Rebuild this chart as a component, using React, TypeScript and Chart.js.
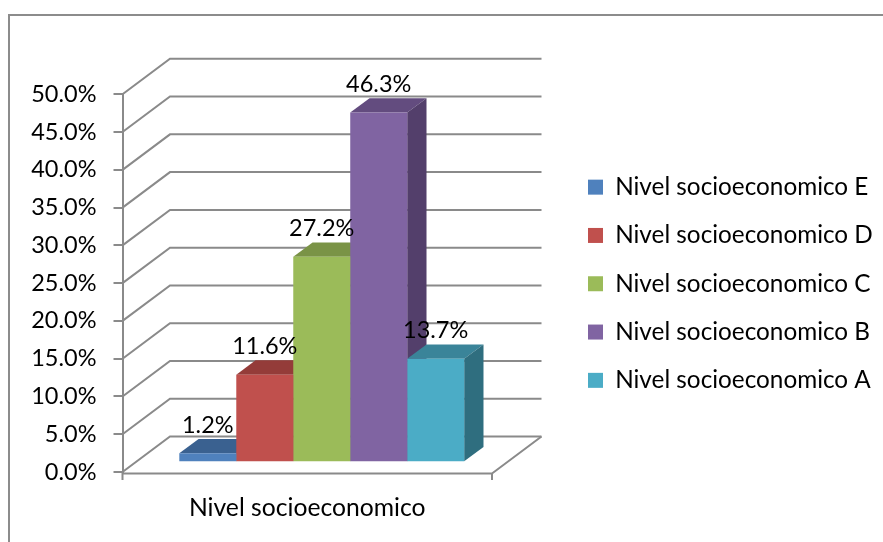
import React, { useEffect, useRef } from "react";
import { Chart, registerables } from "chart.js";

Chart.register(...registerables);

const categories = ["Nivel socioeconomico"];
const seriesNames = [
  "Nivel socioeconomico E",
  "Nivel socioeconomico D",
  "Nivel socioeconomico C",
  "Nivel socioeconomico B",
  "Nivel socioeconomico A",
];
const seriesValues = [[1.2], [11.6], [27.2], [46.3], [13.7]];
const frontColors = ["#4F81BD", "#C0504D", "#9BBB59", "#8064A2", "#4BACC6"];
const topColors = ["#3A6190", "#943C39", "#7A9346", "#634C7F", "#3A8499"];
const sideColors = ["#315179", "#7E3331", "#677C3B", "#533F6B", "#2F6E7F"];

const FONT = "Lato";
const TEXT_SIZE = 24.3;
const AXIS_TEXT_SIZE = 24.7;
const NUM_SIZE = 23.5;
const GRID = "#8A8A8A";
const WALL = { dx: 47.5, dxRight: 49.5, dy: -35.5 };
const BAR_SHIFT = { dx: 14.5, dy: -9.7 };
const BAR_DEPTH = { dx: 19.3, dy: -14.3 };
const LEGEND_PAD = 24;

const scene = {
  id: "scene",
  beforeDraw(chart: any) {
    const { ctx, width, height } = chart;
    ctx.save();
    ctx.fillStyle = "#fff";
    ctx.fillRect(0, 0, width, height);
    ctx.strokeStyle = "#8C8C8C";
    ctx.lineWidth = 2;
    ctx.beginPath();
    ctx.moveTo(9, height);
    ctx.lineTo(9, 15);
    ctx.lineTo(width, 15);
    ctx.stroke();
    ctx.restore();
  },
  beforeLayout(chart: any) {
    const legend = chart.legend;
    if (legend && !legend.__wrapped) {
      const fit = legend.fit;
      legend.fit = function () {
        fit.call(this);
        this.width = 391;
      };
      legend.__wrapped = true;
    }
  },
  afterLayout(chart: any) {
    const legend = chart.legend;
    legend.left = 588 - LEGEND_PAD;
    legend.right = 883;
    legend.top = 175 - LEGEND_PAD;
    legend.bottom = 542;
  },
  beforeDatasetsDraw(chart: any) {
    const { ctx, chartArea, scales } = chart;
    const y = scales.y;
    const left = chartArea.left;
    const right = chartArea.right;
    ctx.save();
    ctx.strokeStyle = GRID;
    ctx.lineWidth = 2;
    ctx.lineJoin = "miter";
    y.ticks.forEach((t: any) => {
      const py = y.getPixelForValue(t.value);
      ctx.beginPath();
      ctx.moveTo(left, py);
      ctx.lineTo(left + WALL.dx, py + WALL.dy);
      ctx.lineTo(right + WALL.dxRight, py + WALL.dy);
      ctx.stroke();
    });
    // floor: right edge and front edge, with the end ticks of the category axis
    const py0 = y.getPixelForValue(0);
    ctx.beginPath();
    ctx.moveTo(right + WALL.dxRight, py0 + WALL.dy);
    ctx.lineTo(right, py0 + 1.5);
    ctx.moveTo(left - 1, py0 + 1.5);
    ctx.lineTo(right, py0 + 1.5);
    ctx.moveTo(left, py0);
    ctx.lineTo(left, py0 + 8);
    ctx.moveTo(right, py0 + 1);
    ctx.lineTo(right, py0 + 8);
    ctx.stroke();
    ctx.restore();

    ctx.save();
    ctx.translate(BAR_SHIFT.dx, BAR_SHIFT.dy);
    chart.data.datasets.forEach((_: any, i: number) => {
      const el = chart.getDatasetMeta(i).data[0];
      const x0 = el.x - el.width / 2;
      const x1 = el.x + el.width / 2;
      ctx.fillStyle = topColors[i];
      ctx.beginPath();
      ctx.moveTo(x0, el.y);
      ctx.lineTo(x1, el.y);
      ctx.lineTo(x1 + BAR_DEPTH.dx, el.y + BAR_DEPTH.dy);
      ctx.lineTo(x0 + BAR_DEPTH.dx, el.y + BAR_DEPTH.dy);
      ctx.closePath();
      ctx.fill();
      ctx.fillStyle = sideColors[i];
      ctx.beginPath();
      ctx.moveTo(x1, el.y);
      ctx.lineTo(x1 + BAR_DEPTH.dx, el.y + BAR_DEPTH.dy);
      ctx.lineTo(x1 + BAR_DEPTH.dx, el.base + BAR_DEPTH.dy);
      ctx.lineTo(x1, el.base);
      ctx.closePath();
      ctx.fill();
    });
  },
  afterDatasetsDraw(chart: any) {
    const { ctx } = chart;
    ctx.fillStyle = "#000";
    ctx.font = `${NUM_SIZE}px ${FONT}`;
    ctx.textAlign = "center";
    ctx.textBaseline = "middle";
    chart.data.datasets.forEach((ds: any, i: number) => {
      const el = chart.getDatasetMeta(i).data[0];
      ctx.fillText(ds.data[0].toFixed(1) + "%", el.x, el.y - 28);
    });
    ctx.restore();
  },
};

export default function App() {
  const ref = useRef<HTMLCanvasElement>(null);
  useEffect(() => {
    const chart = new Chart(ref.current!, {
      type: "bar",
      data: {
        labels: categories,
        datasets: seriesNames.map((label, i) => ({
          label,
          data: seriesValues[i],
          backgroundColor: frontColors[i],
          borderWidth: 0,
          clip: false as any,
        })),
      },
      options: {
        animation: false,
        responsive: false,
        devicePixelRatio: 1,
        layout: { autoPadding: false, padding: { top: 94.3, left: 0, right: 0, bottom: 0 } },
        datasets: { bar: { barPercentage: 1, categoryPercentage: 0.771 } },
        plugins: {
          tooltip: { enabled: false },
          title: { display: false },
          legend: {
            position: "right",
            align: "start",
            labels: {
              boxWidth: 15,
              boxHeight: 15,
              padding: LEGEND_PAD,
              color: "#000",
              font: { family: FONT, size: TEXT_SIZE },
            },
          },
        },
        scales: {
          x: {
            afterFit: (s: any) => {
              s.height = 542 - 472;
            },
            grid: { display: false },
            border: { display: false },
            ticks: {
              color: "#000",
              padding: 13,
              font: { family: FONT, size: AXIS_TEXT_SIZE },
            },
          },
          y: {
            min: 0,
            max: 50,
            afterFit: (s: any) => {
              s.width = 122.5;
            },
            border: { display: true, color: GRID, width: 2 },
            grid: { drawOnChartArea: false, color: GRID, lineWidth: 2, tickLength: 9 },
            ticks: {
              stepSize: 5,
              color: "#000",
              padding: 17,
              font: { family: FONT, size: NUM_SIZE },
              callback: (v: any) => Number(v).toFixed(1) + "%",
            },
          },
        },
      } as any,
      plugins: [scene],
    });
    return () => chart.destroy();
  }, []);
  return (
    <div style={{ position: "fixed", left: 0, top: 0, width: 883, height: 542, background: "#fff" }}>
      <canvas ref={ref} width={883} height={542} style={{ display: "block" }} />
    </div>
  );
}
